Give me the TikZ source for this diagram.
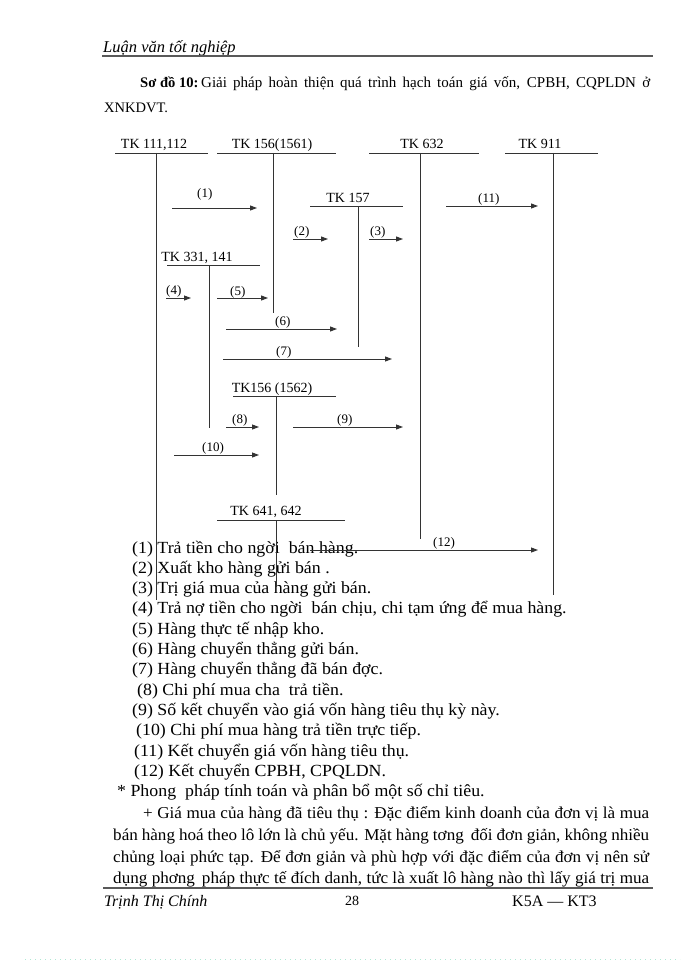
\documentclass[tikz,border=0pt]{standalone}
\usepackage{fontspec}
\setmainfont{Liberation Serif}
\newfontfamily\legfont[FakeStretch=1.05]{Liberation Serif}
\newfontfamily\parfont[FakeStretch=1.03]{Liberation Serif}
\usetikzlibrary{arrows.meta}
\definecolor{dotc}{RGB}{175,232,212}
\begin{document}
\begin{tikzpicture}[x=1pt,y=-1pt,
  ln/.style={line width=0.9pt,black!80},
  rule/.style={line width=1.3pt,black!65},
  arr/.style={ln,-{Triangle[length=7pt,width=5pt]}},
  tk/.style={font=\fontsize{14}{14}\selectfont,inner sep=0pt,anchor=base},
  lbl/.style={font=\fontsize{13}{13}\selectfont,inner sep=0pt,anchor=base west},
  leg/.style={font=\legfont\fontsize{17}{17}\selectfont,inner sep=0pt,anchor=base west},
  par/.style={font=\parfont\fontsize{16.6}{16.6}\selectfont,inner sep=0pt,anchor=base west},
  txt/.style={inner sep=0pt,anchor=base west},
]
\useasboundingbox (0,0) rectangle (700,960);
\fill[white] (0,0) rectangle (700,960);

% header
\node[txt,font=\fontsize{16.5}{16.5}\selectfont\itshape] (hdr) at (103,53) {Luận văn tốt nghiệp};
\draw[rule] (102,56) -- (653,56);

% caption
\node[txt,font=\fontsize{14.6}{14.6}\selectfont\bfseries] (cap1) at (140,88) {Sơ đồ 10:};
\node[txt,font=\fontsize{15}{15}\selectfont] (cap2) at (201,88) {\makebox[449pt][s]{Giải pháp hoàn thiện quá trình hạch toán giá vốn, CPBH, CQPLDN ở}};
\node[txt,font=\fontsize{14.5}{14.5}\selectfont] (cap3) at (104,113) {XNKDVT.};

% ---------- legend text ----------
\node[leg] (l1) at (132,553) {(1) Trả tiền cho ngời\hspace{9pt}bán hàng.};
\node[leg] (l2) at (132,573.3) {(2) Xuất kho hàng gửi bán .};
\node[leg] (l3) at (132,593.6) {(3) Trị giá mua của hàng gửi bán.};
\node[leg] (l4) at (132,613.9) {(4) Trả nợ tiền cho ngời\hspace{9pt}bán chịu, chi tạm ứng để mua hàng.};
\node[leg] (l5) at (132,634.2) {(5) Hàng thực tế nhập kho.};
\node[leg] (l6) at (132,654.5) {(6) Hàng chuyển thẳng gửi bán.};
\node[leg] (l7) at (132,674.8) {(7) Hàng chuyển thẳng đã bán đợc.};
\node[leg] (l8) at (137,695.1) {(8) Chi phí mua cha\hspace{9pt}trả tiền.};
\node[leg] (l9) at (132,715.4) {(9) Số kết chuyển vào giá vốn hàng tiêu thụ kỳ này.};
\node[leg] (l10) at (136,735.7) {(10) Chi phí mua hàng trả tiền trực tiếp.};
\node[leg] (l11) at (134,756) {(11) Kết chuyển giá vốn hàng tiêu thụ.};
\node[leg] (l12) at (134,776.3) {(12) Kết chuyển CPBH, CPQLDN.};
\node[leg] (l13) at (117,796.6) {* Phong\hspace{9pt}pháp tính toán và phân bổ một số chỉ tiêu.};

% ---------- paragraph ----------
\begin{scope}
\clip (0,800) rectangle (700,886);
\node[par] (p1) at (143,818) {\makebox[506pt][s]{+ Giá mua của hàng đã tiêu thụ : Đặc điểm kinh doanh của đơn vị là mua}};
\node[par] (p2) at (113,840) {\makebox[536pt][s]{bán hàng hoá theo lô lớn là chủ yếu. Mặt hàng tơng\hspace{7pt}đối đơn giản, không nhiều}};
\node[par] (p3) at (113,862) {\makebox[536pt][s]{chủng loại phức tạp. Để đơn giản và phù hợp với đặc điểm của đơn vị nên sử}};
\node[par] (p4) at (113,883) {\makebox[536pt][s]{dụng phơng\hspace{7pt}pháp thực tế đích danh, tức là xuất lô hàng nào thì lấy giá trị mua}};
\end{scope}

% footer
\draw[rule] (103,888) -- (653,888);
\node[txt,font=\fontsize{16}{16}\selectfont\itshape] (f1) at (104,906) {Trịnh Thị Chính};
\node[inner sep=0pt,anchor=base,font=\fontsize{14}{14}\selectfont] (f2) at (352,905) {28};
\node[txt,font=\fontsize{16}{16}\selectfont] (f3) at (512,906) {K5A — KT3};
\draw[dotc,line width=1pt,dash pattern=on 1pt off 4pt] (25,959) -- (680,959);

% ---------- T accounts ----------
% TK 111,112
\node[tk] (tA) at (154,149) {TK 111,112};
\coordinate (uA1) at (115,153); \coordinate (uA2) at (208,153);
\coordinate (vA1) at (156,153); \coordinate (vA2) at (156,600);
% TK 156(1561)
\node[tk] (tB) at (272,148.5) {TK 156(1561)};
\coordinate (uB1) at (217,153); \coordinate (uB2) at (336,153);
\coordinate (vB1) at (273,153); \coordinate (vB2) at (273,313);
% TK 632
\node[tk] (tC) at (422,149) {TK 632};
\coordinate (uC1) at (369,153); \coordinate (uC2) at (479,153);
\coordinate (vC1) at (420,153); \coordinate (vC2) at (420,539);
% TK 911
\node[tk] (tD) at (540,149) {TK 911};
\coordinate (uD1) at (505,153); \coordinate (uD2) at (598,153);
\coordinate (vD1) at (553,153); \coordinate (vD2) at (553,595);
% TK 157
\node[tk] (tE) at (348,202) {TK 157};
\coordinate (uE1) at (310,206); \coordinate (uE2) at (403,206);
\coordinate (vE1) at (358,206); \coordinate (vE2) at (358,347);
% TK 331, 141
\node[tk] (tF) at (197,261) {TK 331, 141};
\coordinate (uF1) at (167,265); \coordinate (uF2) at (260,265);
\coordinate (vF1) at (209,265); \coordinate (vF2) at (209,428);
% TK156 (1562)
\node[tk] (tG) at (272,392) {TK156 (1562)};
\coordinate (uG1) at (233,396); \coordinate (uG2) at (336,396);
\coordinate (vG1) at (276,396); \coordinate (vG2) at (276,495);
% TK 641, 642
\node[tk] (tH) at (266,515) {TK 641, 642};
\coordinate (uH1) at (217,520); \coordinate (uH2) at (345,520);
\coordinate (vH1) at (276,520); \coordinate (vH2) at (276,587);

\foreach \k in {A,B,C,D,E,F,G,H}{
  \draw[ln] (u\k1) -- (u\k2);
  \draw[ln] (v\k1) -- (v\k2);
}

% ---------- arrows ----------
\coordinate (s1) at (172,208); \coordinate (e1) at (257,208);
\coordinate (s2) at (293,239); \coordinate (e2) at (328,239);
\coordinate (s3) at (369,239); \coordinate (e3) at (403,239);
\coordinate (s4) at (166,298); \coordinate (e4) at (191,298);
\coordinate (s5) at (217,298); \coordinate (e5) at (268,298);
\coordinate (s6) at (226,329); \coordinate (e6) at (337,329);
\coordinate (s7) at (223,359); \coordinate (e7) at (392,359);
\coordinate (s8) at (226,427); \coordinate (e8) at (259,427);
\coordinate (s9) at (293,427); \coordinate (e9) at (403,427);
\coordinate (s10) at (174,455); \coordinate (e10) at (259,455);
\coordinate (s11) at (446,206); \coordinate (e11) at (538,206);
\coordinate (s12) at (310,550); \coordinate (e12) at (538,550);
\foreach \i in {1,...,12}{ \draw[arr] (s\i) -- (e\i); }

\node[lbl] (n1) at (197,197) {(1)};
\node[lbl] (n2) at (294,235) {(2)};
\node[lbl] (n3) at (370,235) {(3)};
\node[lbl] (n4) at (166,294) {(4)};
\node[lbl] (n5) at (230,295) {(5)};
\node[lbl] (n6) at (275,325) {(6)};
\node[lbl] (n7) at (276,355) {(7)};
\node[lbl] (n8) at (232,423) {(8)};
\node[lbl] (n9) at (337,423) {(9)};
\node[lbl] (n10) at (202,451) {(10)};
\node[lbl] (n11) at (478,202) {(11)};
\node[lbl] (n12) at (433,546) {(12)};
\end{tikzpicture}
\end{document}
